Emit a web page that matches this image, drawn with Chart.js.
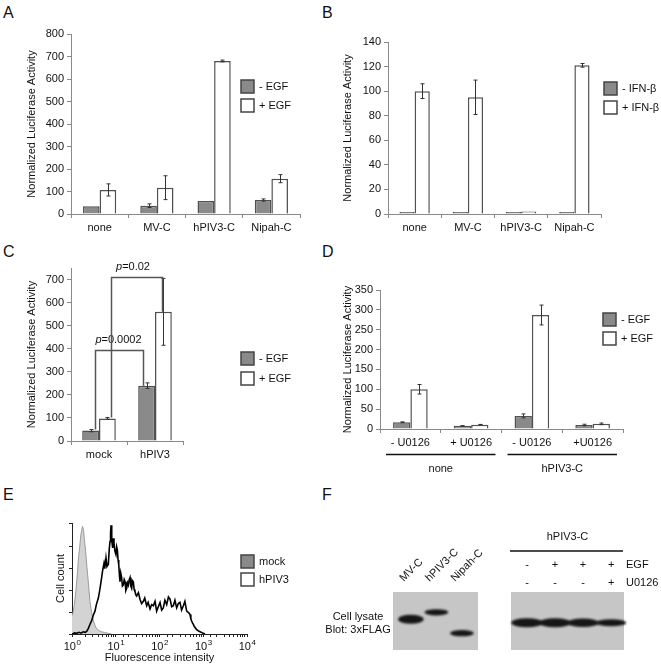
<!DOCTYPE html>
<html>
<head>
<meta charset="utf-8">
<script src="https://cdn.jsdelivr.net/npm/chart.js@4.4.1/dist/chart.umd.min.js"></script>
<style>
  body { margin: 0; background: #fff; width: 661px; height: 668px; position: relative; overflow: hidden;
         font-family: "Liberation Sans", Arial, sans-serif; }
  canvas { position: absolute; }
  .panel { position: absolute; font-size: 16px; color: #111; line-height: 16px; }
</style>
</head>
<body>
<div class="panel" style="left:3px;top:5px">A</div>
<div class="panel" style="left:322px;top:5px">B</div>
<div class="panel" style="left:3px;top:244px">C</div>
<div class="panel" style="left:322px;top:244px">D</div>
<div class="panel" style="left:3px;top:487px">E</div>
<div class="panel" style="left:322px;top:487px">F</div>

<canvas id="chartA" width="330" height="240" style="left:0;top:0"></canvas>
<canvas id="chartB" width="331" height="240" style="left:330px;top:0"></canvas>
<canvas id="chartC" width="330" height="230" style="left:0;top:240px"></canvas>
<canvas id="chartD" width="331" height="240" style="left:330px;top:240px"></canvas>
<canvas id="chartE" width="330" height="198" style="left:0;top:470px"></canvas>
<canvas id="chartF1" width="170" height="198" style="left:320px;top:470px"></canvas>
<canvas id="chartF2" width="171" height="198" style="left:490px;top:470px"></canvas>

<script>
// ---- data ----
const constructs = ["none", "MV-C", "hPIV3-C", "Nipah-C"];
const minusEgfA = [35, 37, 58, 62];
const minusEgfErrA = [0, 8, 0, 5];
const plusEgfA = [107, 117, 680, 157];
const plusEgfErrA = [27, 53, 4, 18];

const minusIfnB = [1, 0.5, 1, 0.5];
const plusIfnB = [100, 95, 2, 121];
const plusIfnErrB = [6, 14, 0, 1.5];

const infection = ["mock", "hPIV3"];
const minusEgfC = [45, 240];
const minusEgfErrC = [5, 12];
const plusEgfC = [98, 560];
const plusEgfErrC = [4, 145];
const ticksC = [0, 100, 200, 300, 400, 500, 600, 700];
const pValuesC = ["0.0002", "0.02"];
const bracketLevelsC = [395, 710];

const inhibitor = ["- U0126", "+ U0126", "- U0126", "+U0126"];
const groupsD = ["none", "hPIV3-C"];
const minusEgfD = [17, 8, 33, 10];
const minusEgfErrD = [1, 0.5, 5, 2];
const plusEgfD = [100, 11, 287, 13];
const plusEgfErrD = [12, 0.5, 25, 2];

const mockFluor = [1.0, 1.06, 1.12, 1.19, 1.26, 1.33, 1.41, 1.5, 1.58, 1.66, 1.74, 1.83, 1.91, 2.05, 2.19, 2.38, 2.57, 2.8, 3.09, 3.35, 3.63, 4.2, 4.79, 5.5, 6.17, 7.9];
const mockCount = [17, 20, 26, 34, 45, 56, 70, 80, 90, 95, 99, 96, 88, 76, 62, 46, 30, 20, 12, 8, 5, 3, 2, 1.5, 1, 0];
const hpivFluor = [1.0, 1.15, 1.28, 1.45, 1.6, 1.8, 2.0, 2.16, 2.35, 2.58, 2.8, 3.05, 3.35, 3.6, 4.0, 4.3, 4.77, 5.0, 5.39, 5.6, 5.98, 6.3, 6.77, 7.1, 7.39, 7.6, 7.79, 8.1, 8.5, 8.8, 9.12, 9.6, 10.1, 10.5, 10.9, 11.3, 11.7, 12.1, 12.5, 13.0, 13.6, 14.2, 14.9, 15.6, 16.3, 17.0, 17.8, 18.6, 19.4, 20.3, 21.2, 22.1, 23.1, 24.1, 25.2, 26.3, 27.5, 28.8, 30.1, 33, 35.8, 39, 42.7, 46, 50.9, 55, 60.7, 66, 72.3, 79, 86.1, 94, 103, 112, 122, 133, 146, 160, 174, 190, 207, 225, 247, 270, 294, 320, 351, 380, 418, 455, 498, 520, 543, 570, 593, 620, 647, 680, 708, 770, 843, 920, 1005, 1096];
const hpivCount = [0, 1, 0.6, 1.5, 0.8, 2, 1.5, 2.4, 5, 9, 12, 17, 21, 27, 33, 40, 52, 58, 65, 60, 70, 62, 64, 78, 85, 92, 100, 86, 79, 88, 83, 76, 73, 80, 77, 68, 64, 55, 48, 56, 52, 44, 45, 50, 48, 40, 42, 47, 45, 50, 52, 44, 42, 49, 48, 41, 39, 36, 35, 38, 32, 28, 30, 33, 26, 29, 23, 27, 26, 30, 21, 25, 29, 22, 24, 31, 27, 34, 32, 25, 26, 31, 24, 28, 29, 22, 26, 30, 21, 20, 18, 14, 12, 10, 9, 7, 6, 5, 4, 3, 2, 1.5, 0.6, 0];
const decades = [1, 10, 100, 1000, 10000];

const lanesF1 = ["MV-C", "hPIV3-C", "Nipah-C"];
const migrationF1 = [0.47, 0.35, 0.71];
const amountF1 = [1.0, 0.55, 0.55];
const egfF2 = ["-", "+", "+", "+"];
const u0126F2 = ["-", "-", "-", "+"];
const migrationF2 = [0.53, 0.53, 0.53, 0.53];
const amountF2 = [1.0, 1.0, 0.95, 0.7];

// ---- common ----
const FONT = '"Liberation Sans", Arial, sans-serif';
Chart.defaults.font.family = FONT;
Chart.defaults.font.size = 11;
Chart.defaults.color = '#111';
const AXIS = '#8a8a8a';

const errorBars = {
  id: 'errorBars',
  afterDatasetsDraw(chart) {
    const ctx = chart.ctx, y = chart.scales.y;
    chart.data.datasets.forEach((ds, i) => {
      if (!ds.errors) return;
      chart.getDatasetMeta(i).data.forEach((bar, j) => {
        const e = ds.errors[j];
        if (!e) return;
        const x = Math.round(bar.x) + 0.5;
        const t = y.getPixelForValue(ds.data[j] + e), b = y.getPixelForValue(ds.data[j] - e);
        ctx.save();
        ctx.strokeStyle = '#333'; ctx.lineWidth = 1;
        ctx.beginPath();
        ctx.moveTo(x, t); ctx.lineTo(x, b);
        ctx.moveTo(x - 2, t); ctx.lineTo(x + 2, t);
        ctx.moveTo(x - 2, b); ctx.lineTo(x + 2, b);
        ctx.stroke();
        ctx.restore();
      });
    });
  }
};

const boxLegend = {
  id: 'boxLegend',
  afterDraw(chart, args, opts) {
    if (!opts.x) return;
    const ctx = chart.ctx;
    ctx.save();
    chart.data.datasets.forEach((ds, i) => {
      const y = opts.y + i * opts.gap;
      ctx.fillStyle = opts.fills ? opts.fills[i] : ds.backgroundColor;
      ctx.fillRect(opts.x, y, 13, 13);
      ctx.strokeStyle = '#444'; ctx.lineWidth = 1.5;
      ctx.strokeRect(opts.x, y, 13, 13);
      ctx.fillStyle = '#111';
      ctx.font = '11px ' + FONT;
      ctx.textBaseline = 'middle';
      ctx.fillText(ds.label, opts.x + 18, y + 7);
    });
    ctx.restore();
  }
};

function barOptions(p) {
  return {
    responsive: false, animation: false, events: [],
    layout: { padding: { left: 0, top: p.top, right: p.right, bottom: 0 } },
    scales: {
      x: {
        afterFit: s => { s.height = p.xh; },
        grid: { offset: true, drawOnChartArea: false, tickLength: 4, color: AXIS },
        border: { color: AXIS },
        ticks: { padding: 3, color: '#111', maxRotation: 0 }
      },
      y: {
        min: 0, max: p.max,
        afterFit: s => { s.width = p.yw; },
        afterBuildTicks: s => { if (p.ticks) s.ticks = p.ticks.map(v => ({ value: v })); },
        grid: { drawOnChartArea: false, tickLength: 4, color: AXIS },
        border: { color: AXIS },
        ticks: { stepSize: p.step, padding: 3, color: '#111' },
        title: { display: true, text: 'Normalized Luciferase Activity', font: { size: 11 },
                 padding: { top: p.tpad, bottom: 0 } }
      }
    },
    plugins: { legend: { display: false }, tooltip: { enabled: false },
               boxLegend: { x: p.lx, y: p.ly, gap: p.lgap } }
  };
}

function barSet(label, values, errors, fill, cat, minLen) {
  return { label, data: values, errors, backgroundColor: fill, borderColor: '#505050',
           borderWidth: 1.5, barPercentage: 1, categoryPercentage: cat, minBarLength: minLen || 0 };
}

// ---- A ----
new Chart(document.getElementById('chartA'), {
  type: 'bar',
  data: { labels: constructs, datasets: [
    barSet('- EGF', minusEgfA, minusEgfErrA, '#8a8a8a', 0.58),
    barSet('+ EGF', plusEgfA, plusEgfErrA, '#ffffff', 0.58)
  ]},
  options: barOptions({ top: 34, right: 30, xh: 26, yw: 71, max: 800, step: 100, tpad: 25, lx: 241, ly: 80, lgap: 19 }),
  plugins: [errorBars, boxLegend]
});

// ---- B ----
new Chart(document.getElementById('chartB'), {
  type: 'bar',
  data: { labels: constructs, datasets: [
    barSet('- IFN-β', minusIfnB, null, '#8a8a8a', 0.57, 2),
    barSet('+ IFN-β', plusIfnB, plusIfnErrB, '#ffffff', 0.57, 2)
  ]},
  options: barOptions({ top: 42, right: 60, xh: 26, yw: 58, max: 140, step: 20, tpad: 11, lx: 274, ly: 82, lgap: 19 }),
  plugins: [errorBars, boxLegend]
});

// ---- C ----
const brackets = {
  id: 'brackets',
  afterDatasetsDraw(chart, args, opts) {
    const ctx = chart.ctx, y = chart.scales.y;
    opts.items.forEach(b => {
      const a = chart.getDatasetMeta(b.from[0]).data[b.from[1]];
      const c = chart.getDatasetMeta(b.to[0]).data[b.to[1]];
      const x1 = Math.round(a.x + 4) + 0.5, x2 = Math.round(c.x - b.inset) + 0.5;
      const yl = Math.round(y.getPixelForValue(b.level)) + 0.5;
      const ds1 = chart.data.datasets[b.from[0]], ds2 = chart.data.datasets[b.to[0]];
      const y1 = y.getPixelForValue(ds1.data[b.from[1]] + (ds1.errors[b.from[1]] || 0));
      const y2 = y.getPixelForValue(ds2.data[b.to[1]]);
      ctx.save();
      ctx.strokeStyle = '#555'; ctx.lineWidth = 1.5;
      ctx.beginPath();
      ctx.moveTo(x1, y1); ctx.lineTo(x1, yl); ctx.lineTo(x2, yl); ctx.lineTo(x2, y2);
      ctx.stroke();
      ctx.fillStyle = '#111';
      ctx.textBaseline = 'middle';
      ctx.font = 'italic 11px ' + FONT;
      const wp = ctx.measureText('p').width;
      ctx.font = '11px ' + FONT;
      const rest = '=' + b.p;
      const w = wp + ctx.measureText(rest).width;
      const cx = (x1 + x2) / 2 - w / 2 - b.shift, ty = yl - 11;
      ctx.font = 'italic 11px ' + FONT;
      ctx.fillText('p', cx, ty);
      ctx.font = '11px ' + FONT;
      ctx.fillText(rest, cx + wp, ty);
      ctx.restore();
    });
  }
};

new Chart(document.getElementById('chartC'), {
  type: 'bar',
  data: { labels: infection, datasets: [
    barSet('- EGF', minusEgfC, minusEgfErrC, '#8a8a8a', 0.6),
    barSet('+ EGF', plusEgfC, plusEgfErrC, '#ffffff', 0.6)
  ]},
  options: (() => {
    const o = barOptions({ top: 28, right: 147, xh: 29, yw: 71, max: 750, step: 100, ticks: ticksC, tpad: 25, lx: 241, ly: 112, lgap: 20 });
    o.plugins.brackets = { items: [
      { from: [0, 0], to: [0, 1], inset: 4, level: bracketLevelsC[0], p: pValuesC[0], shift: 1 },
      { from: [1, 0], to: [1, 1], inset: 1, level: bracketLevelsC[1], p: pValuesC[1], shift: 4 }
    ]};
    return o;
  })(),
  plugins: [errorBars, boxLegend, brackets]
});

// ---- D ----
const groupAxis = {
  id: 'groupAxis',
  afterDraw(chart, args, opts) {
    const ctx = chart.ctx, x = chart.scales.x, half = (x.getPixelForValue(1) - x.getPixelForValue(0)) / 2;
    const yLine = chart.chartArea.bottom + 25.5;
    ctx.save();
    opts.groups.forEach((g, k) => {
      const l = x.getPixelForValue(k * 2) - half + 6, r = x.getPixelForValue(k * 2 + 1) + half - 6;
      ctx.strokeStyle = '#111'; ctx.lineWidth = 1.5;
      ctx.beginPath(); ctx.moveTo(l, yLine); ctx.lineTo(r, yLine); ctx.stroke();
      ctx.fillStyle = '#111'; ctx.font = '11px ' + FONT;
      ctx.textAlign = 'center'; ctx.textBaseline = 'middle';
      ctx.fillText(g, (l + r) / 2, yLine + 14);
    });
    ctx.restore();
  }
};

new Chart(document.getElementById('chartD'), {
  type: 'bar',
  data: { labels: inhibitor, datasets: [
    barSet('- EGF', minusEgfD, minusEgfErrD, '#8a8a8a', 0.57),
    barSet('+ EGF', plusEgfD, plusEgfErrD, '#ffffff', 0.57)
  ]},
  options: (() => {
    const o = barOptions({ top: 50, right: 38, xh: 51, yw: 50, max: 350, step: 50, tpad: 11, lx: 273, ly: 73, lgap: 19 });
    o.plugins.groupAxis = { groups: groupsD };
    return o;
  })(),
  plugins: [errorBars, boxLegend, groupAxis]
});

// ---- E ----
const powerLabels = {
  id: 'powerLabels',
  afterDraw(chart) {
    const ctx = chart.ctx, x = chart.scales.x, yb = chart.chartArea.bottom;
    ctx.save();
    ctx.fillStyle = '#111'; ctx.textBaseline = 'alphabetic';
    decades.forEach(v => {
      const px = x.getPixelForValue(v);
      const exp = String(Math.round(Math.log10(v)));
      ctx.font = '11px ' + FONT;
      const w1 = ctx.measureText('10').width;
      ctx.font = '8px ' + FONT;
      const w2 = ctx.measureText(exp).width;
      const sx = px - (w1 + w2) / 2;
      ctx.font = '11px ' + FONT;
      ctx.fillText('10', sx, yb + 16);
      ctx.font = '8px ' + FONT;
      ctx.fillText(exp, sx + w1 + 0.5, yb + 11);
    });
    ctx.restore();
  }
};

new Chart(document.getElementById('chartE'), {
  type: 'line',
  data: { datasets: [
    { label: 'mock', data: mockFluor.map((v, i) => ({ x: v, y: mockCount[i] })),
      borderColor: '#9a9a9a', borderWidth: 1, backgroundColor: '#d3d3d3', fill: 'origin', pointRadius: 0, order: 2 },
    { label: 'hPIV3', data: hpivFluor.map((v, i) => ({ x: v, y: hpivCount[i] })),
      borderColor: '#000', borderWidth: 1.6, backgroundColor: '#ffffff', fill: false, pointRadius: 0, order: 1 }
  ]},
  options: {
    responsive: false, animation: false, events: [],
    layout: { padding: { left: 0, top: 53, right: 83, bottom: 0 } },
    scales: {
      x: {
        type: 'logarithmic', min: 1, max: 10000,
        afterFit: s => { s.height = 34; },
        grid: { drawOnChartArea: false, tickLength: 3, color: '#222' },
        border: { color: '#222' },
        ticks: { autoSkip: false, callback: () => '', maxRotation: 0 },
        title: { display: true, text: 'Fluorescence intensity', font: { size: 11 }, padding: { top: 0, bottom: 3 } }
      },
      y: {
        min: 0, max: 102,
        afterFit: s => { s.width = 72; },
        grid: { drawOnChartArea: false, tickLength: 3, color: '#222' },
        border: { color: '#222' },
        ticks: { stepSize: 10, callback: () => '' },
        title: { display: true, text: 'Cell count', font: { size: 11 }, padding: { top: 54, bottom: 0 } }
      }
    },
    plugins: { legend: { display: false }, tooltip: { enabled: false },
               boxLegend: { x: 241, y: 85, gap: 18, fills: ['#8a8a8a', '#ffffff'] } }
  },
  plugins: [boxLegend, powerLabels]
});

// ---- F (blots) ----
const blot = {
  id: 'blot',
  beforeDatasetsDraw(chart) {
    const { left, top, width, height } = chart.chartArea, ctx = chart.ctx;
    ctx.save();
    ctx.fillStyle = '#c6c6c6';
    ctx.fillRect(left, top, width, height);
    ctx.restore();
  },
  afterDatasetsDraw(chart, args, opts) {
    const ctx = chart.ctx, x = chart.scales.x, area = chart.chartArea;
    const step = x.getPixelForValue(1) - x.getPixelForValue(0);
    const ds = chart.data.datasets[0];
    ctx.save();
    ctx.fillStyle = '#161616';
    ctx.filter = 'blur(1px)';
    chart.getDatasetMeta(0).data.forEach((pt, i) => {
      const amt = ds.amounts[i];
      const w = step * opts.bandWidth * (0.85 + 0.15 * amt), h = 3 + 6 * amt;
      ctx.beginPath();
      ctx.ellipse(pt.x, pt.y, w / 2, h / 2, 0, 0, Math.PI * 2);
      ctx.fill();
    });
    ctx.filter = 'none';
    ctx.fillStyle = '#111';
    ctx.font = '11px ' + FONT;
    if (opts.lanes) {
      opts.lanes.forEach((l, i) => {
        ctx.save();
        ctx.translate(x.getPixelForValue(i) - 7, area.top - 10);
        ctx.rotate(-Math.PI / 4);
        ctx.textBaseline = 'alphabetic';
        ctx.fillText(l, 0, 0);
        ctx.restore();
      });
    }
    if (opts.side) {
      ctx.textAlign = 'center'; ctx.textBaseline = 'middle';
      opts.side.forEach((s, k) => ctx.fillText(s, area.left - 35, area.top + 25 + k * 13));
    }
    if (opts.header) {
      ctx.textAlign = 'center'; ctx.textBaseline = 'middle';
      ctx.fillText(opts.header, (area.left + area.right) / 2, area.top - 55);
      ctx.strokeStyle = '#111'; ctx.lineWidth = 1.5;
      ctx.beginPath(); ctx.moveTo(area.left - 1, area.top - 41); ctx.lineTo(area.right - 1, area.top - 41); ctx.stroke();
      opts.rows.forEach((r, k) => {
        const yy = area.top - 27 + k * 18;
        ctx.textAlign = 'center';
        r.signs.forEach((s, i) => ctx.fillText(s, x.getPixelForValue(i), yy));
        ctx.textAlign = 'left';
        ctx.fillText(r.label, area.right + 2, yy);
      });
    }
    ctx.restore();
  }
};

function blotChart(id, migration, amounts, pad, xr, opts) {
  return new Chart(document.getElementById(id), {
    type: 'scatter',
    data: { datasets: [{ data: migration.map((m, i) => ({ x: i, y: m })), amounts, pointRadius: 0 }] },
    options: {
      responsive: false, animation: false, events: [],
      layout: { padding: pad },
      scales: { x: { type: 'linear', display: false, min: xr[0], max: xr[1] },
                y: { display: false, min: 0, max: 1, reverse: true } },
      plugins: { legend: { display: false }, tooltip: { enabled: false }, blot: opts }
    },
    plugins: [blot]
  });
}

blotChart('chartF1', migrationF1, amountF1, { left: 73, right: 12, top: 122, bottom: 18 }, [-0.7, 2.63],
  { bandWidth: 1.0, lanes: lanesF1, side: ['Cell lysate', 'Blot: 3xFLAG'] });
blotChart('chartF2', migrationF2, amountF2, { left: 21, right: 37, top: 122, bottom: 18 }, [-0.57, 3.46],
  { bandWidth: 1.12, header: 'hPIV3-C', rows: [{ label: 'EGF', signs: egfF2 }, { label: 'U0126', signs: u0126F2 }] });
</script>
</body>
</html>
